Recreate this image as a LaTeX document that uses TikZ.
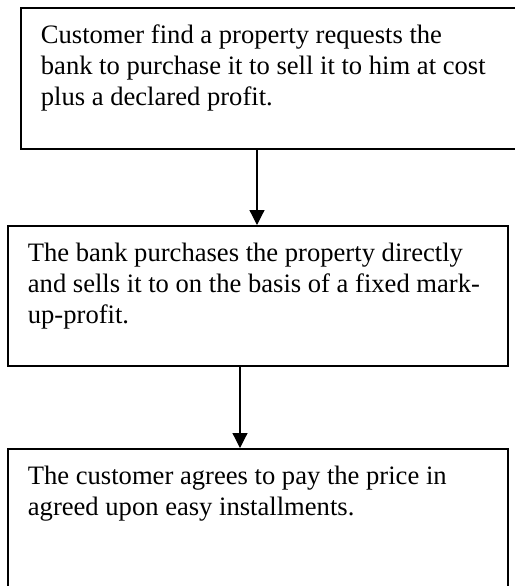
\documentclass[tikz,border=0pt]{standalone}
\usepackage{fontspec}
\setmainfont{Liberation Serif}
\usetikzlibrary{arrows.meta}
\newcommand\flowtext[3]{\parbox[t][#2][t]{#1}{\leftskip=10pt\rightskip=0pt plus 1fil\parindent=0pt\parfillskip=0pt plus 1fil\fontsize{13.3}{15.5}\selectfont\rule{0pt}{18pt}#3}}
\tikzset{
  flowbox/.style={draw, line width=0.9pt, inner sep=0pt, anchor=north west},
  flowarrow/.style={line width=0.6pt, -{Triangle[width=7.5pt,length=7.5pt]}}
}
\begin{document}
\begin{tikzpicture}[x=0.5pt,y=-0.5pt]
\useasboundingbox (0,0) rectangle (515,586);
\clip (0,0) rectangle (515,586);
\node[flowbox] (b1) at (20,7) {\flowtext{255pt}{70.5pt}{Customer find a property requests the\\bank to purchase it to sell it to him at cost\\plus a declared profit.}};
\node[flowbox] (b2) at (7,225) {\flowtext{250pt}{70pt}{The bank purchases the property directly\\and sells it to on the basis of a fixed mark-\\up-profit.}};
\node[flowbox] (b3) at (7,448) {\flowtext{250pt}{86pt}{The customer agrees to pay the price in\\agreed upon easy installments.}};
\coordinate (a1) at (257,0);
\coordinate (a2) at (240,0);
\draw[flowarrow] (b1.south -| a1) -- (b2.north -| a1);
\draw[flowarrow] (b2.south -| a2) -- (b3.north -| a2);
\end{tikzpicture}
\end{document}
